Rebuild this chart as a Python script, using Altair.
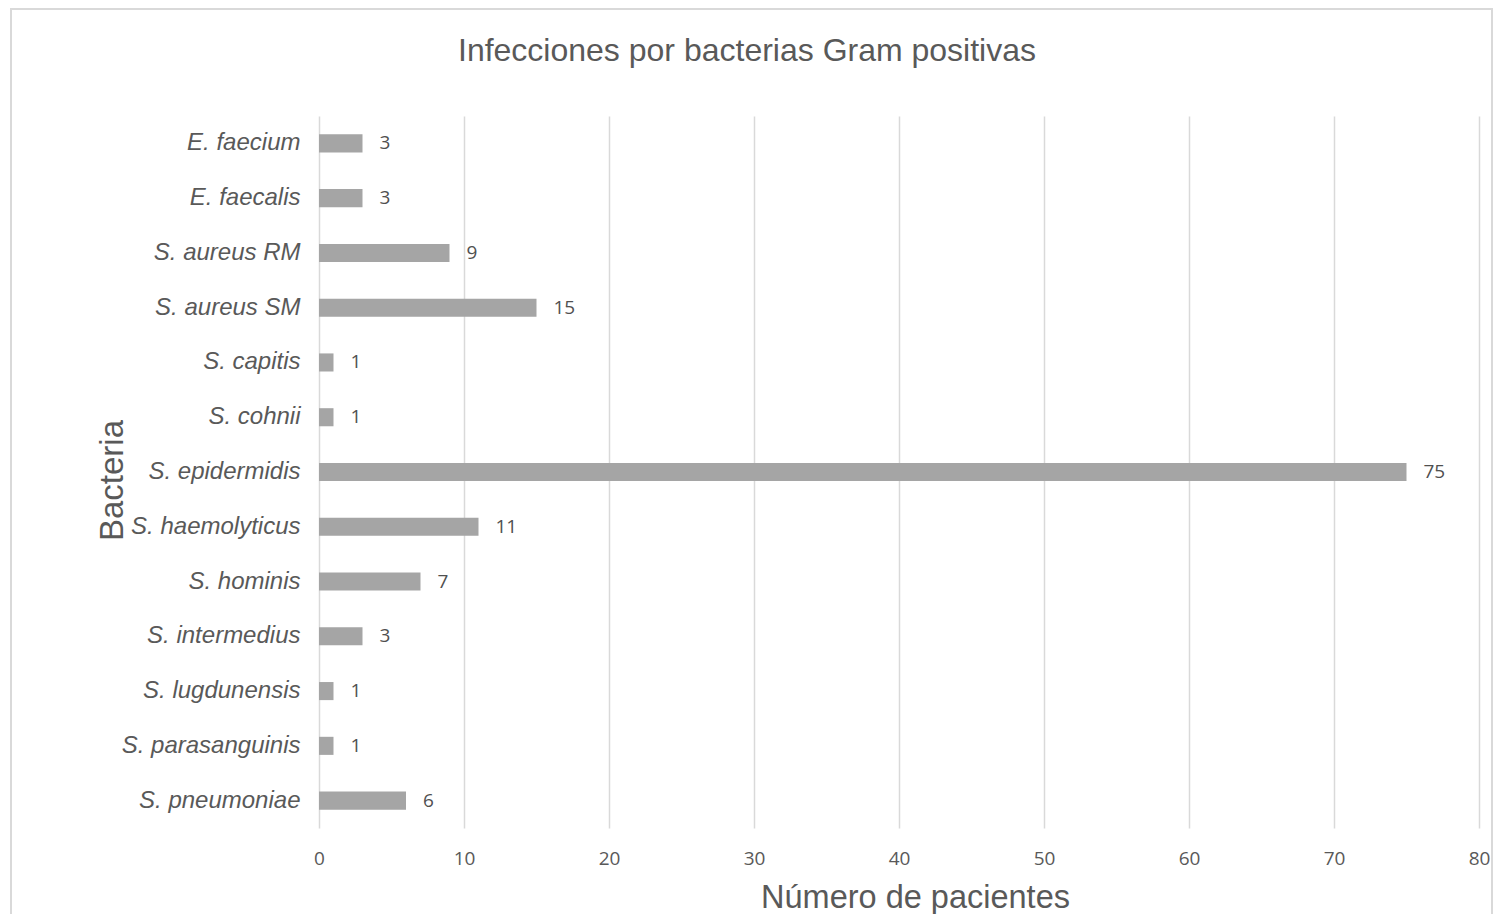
import altair as alt
import pandas as pd

bacteria = ["E. faecium", "E. faecalis", "S. aureus RM", "S. aureus SM", "S. capitis",
            "S. cohnii", "S. epidermidis", "S. haemolyticus", "S. hominis",
            "S. intermedius", "S. lugdunensis", "S. parasanguinis", "S. pneumoniae"]
pacientes = [3, 3, 9, 15, 1, 1, 75, 11, 7, 3, 1, 1, 6]

df = pd.DataFrame({"Bacteria": bacteria, "Pacientes": pacientes})

x_enc = alt.X("Pacientes:Q",
              scale=alt.Scale(domain=[0, 80], nice=False),
              axis=alt.Axis(values=list(range(0, 81, 10)), title="Número de pacientes",
                            grid=True, gridColor="#d9d9d9", gridWidth=1.5,
                            domain=False, ticks=False, labelFlush=False,
                            labelFont="Open Sans", labelFontSize=19, labelColor="#595959",
                            labelPadding=21,
                            titleFont="Liberation Sans", titleFontSize=32.5,
                            titleFontWeight="normal", titleColor="#595959",
                            titleX=596, titleY=79, titleBaseline="alphabetic"))
y_enc = alt.Y("Bacteria:N", sort=bacteria,
              scale=alt.Scale(paddingInner=0.67, paddingOuter=0.335),
              axis=alt.Axis(title="Bacteria", domain=False, ticks=False,
                            labelFont="Liberation Sans", labelFontSize=24,
                            labelFontStyle="italic", labelColor="#595959",
                            labelPadding=19,
                            titleFont="Liberation Sans", titleFontSize=33,
                            titleFontWeight="normal", titleColor="#595959",
                            titleAngle=270, titleX=-207, titleY=364,
                            titleAlign="center", titleBaseline="middle"))

base = alt.Chart(df)

bars = base.mark_bar(color="#a5a5a5").encode(x=x_enc, y=y_enc)
labels = base.mark_text(align="left", baseline="middle", dx=17, font="Open Sans",
                        fontSize=19, color="#505050").encode(
    x="Pacientes:Q", y=alt.Y("Bacteria:N", sort=bacteria), text="Pacientes:Q")

frame = alt.Chart(pd.DataFrame({"f": [0]})).mark_rect(
    fill=None, stroke="#d9d9d9", strokeWidth=2).encode(
    x=alt.value(-308), x2=alt.value(1173), y=alt.value(-107), y2=alt.value(830))

chart = alt.layer(frame, bars, labels).properties(
    width=1160, height=712,
    background="white",
    title=alt.TitleParams("Infecciones por bacterias Gram positivas",
                          font="Liberation Sans", fontSize=32, fontWeight="normal",
                          color="#595959", anchor="middle", dx=-152, offset=-85,
                          baseline="alphabetic"),
    autosize=alt.AutoSizeParams(type="none"),
    padding={"left": 311, "top": 108, "right": 14, "bottom": 86},
).configure_view(stroke=None)

chart.save("out.html", embed_options={"renderer": "svg", "actions": False})
